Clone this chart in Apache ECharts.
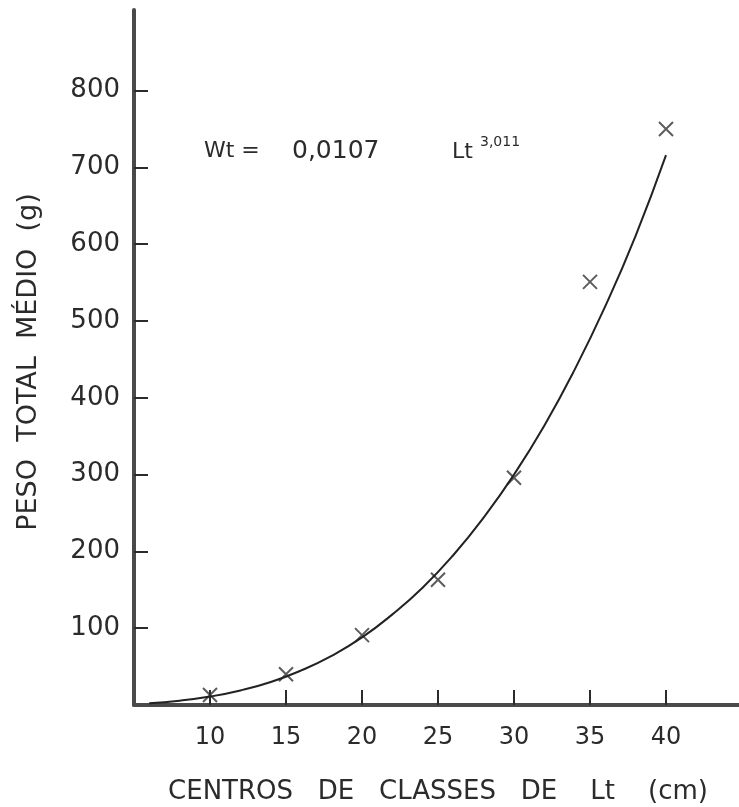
<!DOCTYPE html>
<html>
<head>
<meta charset="utf-8">
<script src="https://cdn.jsdelivr.net/npm/echarts@6/dist/echarts.min.js"></script>
<style>
  html, body { margin: 0; padding: 0; background: #fff; }
  #chart { width: 739px; height: 807px; }
</style>
</head>
<body>
<div id="chart"></div>
<script>
// classes de comprimento (cm) e peso medio observado (g)
const classCenters = [10, 15, 20, 25, 30, 35, 40];
const meanWeights = [13, 40, 91, 163, 296, 551, 750];

// curva ajustada Wt = 0,0107 Lt^3,011
const curveLt = [6, 8, 10, 12, 14, 16, 18, 20, 22, 24, 26, 28, 30, 32, 34, 36, 38, 40];
const curveWt = [2.4, 5.6, 11, 19, 30, 45, 64, 88, 118, 153, 195, 244, 300, 364, 437, 519, 611, 716];

const xTicks = [10, 15, 20, 25, 30, 35, 40];
const yTicks = [100, 200, 300, 400, 500, 600, 700, 800];

const ink = "#2b2b2b";
const font = "DejaVu Sans";

const chart = echarts.init(document.getElementById("chart"));

// pedacos da equacao escrita no grafico
const eqText = (text, x, y, size) => ({
    type: "text",
    x: x,
    y: y,
    style: { text: text, fill: ink, font: size + "px " + font, align: "left", verticalAlign: "middle" }
});

const option = {
    backgroundColor: "#fff",
    animation: false,
    grid: { left: 134, right: -3, top: 10, bottom: 102, containLabel: false, outerBoundsMode: "none" },
    xAxis: {
        type: "value",
        min: 5,
        max: 45,
        name: "CENTROS   DE   CLASSES   DE    Lt    (cm)",
        nameLocation: "middle",
        nameGap: 74,
        nameTextStyle: { color: ink, fontFamily: font, fontSize: 26 },
        axisLine: { lineStyle: { color: "#4a4a4a", width: 4 } },
        axisTick: { show: true, inside: true, length: 15, customValues: xTicks, lineStyle: { color: ink, width: 2 } },
        axisLabel: { customValues: xTicks, margin: 21, color: ink, fontFamily: font, fontSize: 24 },
        splitLine: { show: false }
    },
    yAxis: {
        type: "value",
        min: 0,
        max: 905,
        axisLine: { show: true, lineStyle: { color: "#4a4a4a", width: 4 } },
        axisTick: { show: true, inside: true, length: 14, customValues: yTicks, lineStyle: { color: ink, width: 2 } },
        axisLabel: { customValues: yTicks, margin: 14, color: ink, fontFamily: font, fontSize: 26 },
        splitLine: { show: false }
    },
    graphic: [
        {
            type: "text",
            x: 29,
            y: 362,
            rotation: Math.PI / 2,
            style: {
                text: "PESO  TOTAL  MÉDIO  (g)",
                fill: ink,
                font: "27px " + font,
                align: "center",
                verticalAlign: "middle"
            }
        },
        eqText("Wt =", 204, 151, 22),
        eqText("0,0107", 292, 151, 25),
        eqText("Lt", 452, 152, 22),
        eqText("3,011", 480, 142, 14)
    ],
    series: [
        {
            type: "line",
            data: curveLt.map((v, i) => [v, curveWt[i]]),
            smooth: true,
            showSymbol: false,
            lineStyle: { color: "#222", width: 2 }
        },
        {
            type: "scatter",
            data: classCenters.map((v, i) => [v, meanWeights[i]]),
            symbol: "path://M0,0L10,10M10,0L0,10",
            symbolSize: 14,
            itemStyle: { color: "none", borderColor: "#333", borderWidth: 2 }
        }
    ]
};

chart.setOption(option);
</script>
</body>
</html>
